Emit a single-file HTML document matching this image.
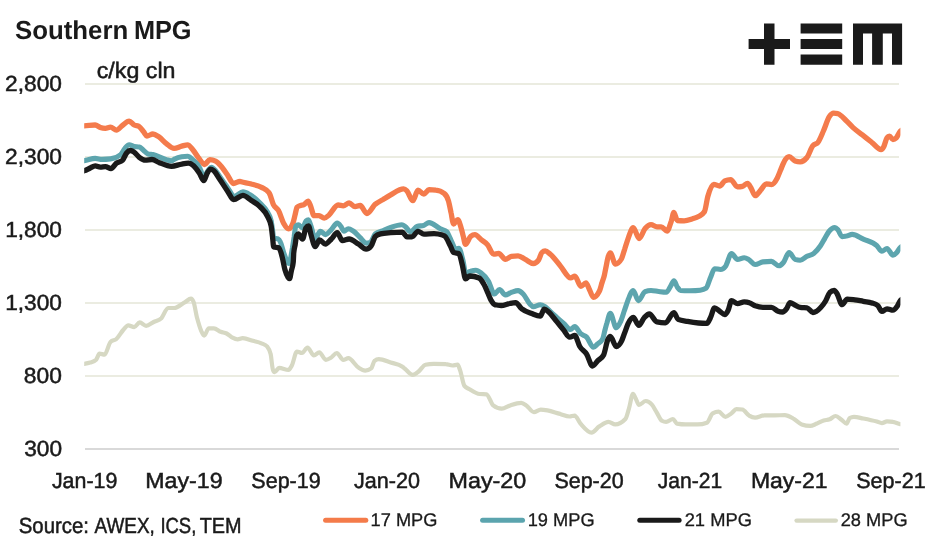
<!DOCTYPE html>
<html lang="en"><head><meta charset="utf-8"><title>Southern MPG</title>
<style>
html,body{margin:0;padding:0;background:#fff}
body{width:947px;height:543px;overflow:hidden}
svg{display:block}
text{font-family:"Liberation Sans",sans-serif;fill:#1a1a1a;text-rendering:geometricPrecision}
</style></head><body>
<svg width="947" height="543" viewBox="0 0 947 543">
<rect width="947" height="543" fill="#ffffff"/>
<g fill="#ebece1">
<rect x="85" y="83" width="814" height="2"/>
<rect x="85" y="156" width="814" height="2"/>
<rect x="85" y="229" width="814" height="2"/>
<rect x="85" y="302" width="814" height="2"/>
<rect x="85" y="375" width="814" height="2"/>
</g>
<rect x="85" y="448" width="814" height="2" fill="#d9d9d9"/>
<clipPath id="pc"><rect x="84.2" y="60" width="816.2" height="400"/></clipPath>
<g fill="none" stroke-linejoin="round" stroke-linecap="butt" clip-path="url(#pc)">
<path stroke="#f47b4c" stroke-width="5.3" d="M81.2,125.9C82.2,125.9 83.2,125.9 84.2,125.8C87.9,125.7 91.6,125.0 95.2,125.0C96.9,125.0 98.6,127.0 100.3,127.5C102.0,128.1 103.7,128.4 105.4,128.4C107.1,128.4 108.8,127.2 110.5,127.2C112.5,127.2 114.5,130.1 116.4,130.1C118.4,130.1 120.4,126.9 122.4,125.5C124.6,123.9 126.9,121.2 129.2,121.2C130.8,121.2 132.5,124.1 134.2,125.0C135.9,125.9 137.6,125.5 139.3,126.7C140.7,127.6 142.1,130.0 143.6,131.8C144.7,133.1 145.8,136.0 146.9,136.0C148.9,136.0 150.9,134.0 152.9,134.0C154.9,134.0 156.8,135.5 158.8,136.8C161.4,138.5 163.9,141.7 166.4,143.6C169.0,145.5 171.5,148.4 174.1,148.4C176.6,148.4 179.2,146.8 181.7,146.2C183.7,145.7 185.7,144.8 187.6,144.8C189.3,144.8 191.0,147.6 192.7,149.6C194.7,151.8 196.7,155.5 198.6,158.0C200.6,160.5 202.6,164.5 204.6,164.5C206.3,164.5 208.0,159.7 209.7,159.7C211.6,159.7 213.6,160.2 215.6,161.1C217.3,161.9 219.0,163.8 220.7,165.7C222.9,168.1 225.2,171.8 227.5,175.0C229.4,177.8 231.4,183.5 233.4,183.5C235.6,183.5 237.8,181.4 240.0,181.4C240.4,181.4 240.8,181.6 241.2,181.8C244.6,182.7 248.0,183.0 251.4,184.0C254.8,184.9 258.1,185.5 261.5,187.3C264.1,188.7 266.6,189.2 269.1,192.8C270.6,194.8 272.0,201.7 273.4,204.6C275.1,208.1 276.8,207.5 278.5,210.6C280.2,213.7 281.9,220.2 283.6,223.3C285.3,226.3 286.9,228.9 288.6,228.9C290.1,228.9 291.5,227.0 292.9,223.3C293.6,221.4 294.3,217.9 295.0,215.2C295.7,212.5 296.4,207.9 297.1,207.2C298.2,206.0 299.4,205.9 300.5,205.5C301.6,205.1 302.8,205.2 303.9,204.6C305.3,203.9 306.7,201.2 308.1,201.2C309.0,201.2 309.8,204.4 310.7,206.3C311.8,209.0 312.9,215.7 314.1,215.7C315.8,215.7 317.5,215.7 319.1,215.7C320.8,215.7 322.5,218.2 324.2,218.2C325.8,218.2 327.3,216.4 328.8,215.2C331.9,212.6 335.0,205.0 338.1,205.0C339.8,205.0 341.5,205.8 343.2,205.8C345.2,205.8 347.2,202.9 349.1,202.9C351.1,202.9 353.1,206.7 355.1,206.7C356.8,206.7 358.5,205.5 360.2,205.5C362.4,205.5 364.7,213.5 366.9,213.5C369.8,213.5 372.6,206.5 375.4,204.1C378.0,202.0 380.5,201.0 383.1,199.5C385.6,197.9 388.1,196.2 390.7,194.8C395.0,192.4 399.3,188.9 403.6,188.9C404.7,188.9 405.8,189.8 406.9,190.9C408.9,192.9 410.9,200.7 412.9,200.7C414.6,200.7 416.3,190.1 418.0,190.1C419.9,190.1 421.9,194.0 423.9,194.0C425.6,194.0 427.3,189.7 429.0,189.7C431.2,189.7 433.5,189.8 435.8,190.1C438.6,190.3 441.4,191.2 444.2,193.5C445.7,194.6 447.1,196.2 448.5,201.1C449.3,204.0 450.2,208.7 451.0,212.5C451.9,216.3 452.7,224.0 453.6,224.0C455.0,224.0 456.4,219.7 457.8,219.7C458.9,219.7 460.1,224.5 461.2,228.2C461.9,230.5 462.6,233.6 463.3,236.3C464.0,238.9 464.7,244.3 465.4,244.3C467.2,244.3 468.9,237.8 470.7,236.4C472.1,235.3 473.5,234.7 474.9,234.7C477.0,234.7 479.2,238.1 481.3,239.8C483.4,241.5 485.5,242.3 487.6,244.9C489.6,247.3 491.6,254.2 493.6,254.2C495.3,254.2 496.9,253.4 498.6,253.4C500.9,253.4 503.2,259.3 505.4,259.3C507.4,259.3 509.4,256.7 511.4,256.4C513.6,256.1 515.9,255.9 518.1,255.9C520.7,255.9 523.2,258.5 525.8,259.7C528.3,261.0 530.8,263.5 533.4,263.5C535.1,263.5 536.8,262.4 538.5,260.1C539.6,258.6 540.7,253.7 541.9,252.5C543.0,251.4 544.1,250.8 545.2,250.8C546.9,250.8 548.6,252.8 550.3,254.2C553.7,257.0 557.1,262.1 560.5,266.1C563.9,270.0 567.3,277.9 570.7,277.9C572.1,277.9 573.5,276.2 574.9,276.2C576.9,276.2 578.9,286.4 580.9,286.4C582.5,286.4 584.2,283.0 585.9,283.0C587.2,283.0 588.4,287.8 589.7,290.1C590.9,292.5 592.1,297.3 593.4,297.3C595.4,297.3 597.3,295.3 599.3,291.3C600.2,289.6 601.0,285.9 601.9,283.2C602.7,280.5 603.6,278.7 604.4,275.1C605.0,272.6 605.5,269.4 606.1,266.6C606.7,263.8 607.2,260.3 607.8,258.1C608.6,254.9 609.5,253.0 610.3,253.0C612.0,253.0 613.7,264.0 615.4,264.0C617.4,264.0 619.4,262.3 621.4,259.0C622.5,257.0 623.6,252.2 624.8,248.8C625.9,245.4 627.0,241.6 628.1,238.6C629.8,234.1 631.5,227.6 633.2,227.6C635.2,227.6 637.2,238.6 639.1,238.6C641.1,238.6 643.1,230.8 645.1,228.5C647.1,226.1 649.0,224.6 651.0,224.6C653.0,224.6 655.0,226.8 657.0,226.8C658.4,226.8 659.8,226.8 661.2,226.8C663.2,226.8 665.1,231.0 667.1,231.0C668.5,231.0 669.9,225.0 671.4,220.8C672.2,218.3 673.1,212.3 673.9,212.3C675.0,212.3 676.2,220.4 677.3,220.5C679.5,220.7 681.8,220.8 684.1,220.8C686.9,220.8 689.7,219.7 692.5,218.8C694.5,218.1 696.5,217.7 698.5,216.5C700.5,215.3 702.4,214.9 704.4,211.8C705.5,210.0 706.7,200.6 707.8,196.5C709.8,189.4 711.8,184.3 713.7,184.3C715.7,184.3 717.7,186.0 719.7,186.0C721.4,186.0 723.1,181.7 724.8,180.9C726.7,180.0 728.7,179.6 730.7,179.6C732.9,179.6 735.2,186.8 737.5,186.8C739.2,186.8 740.8,186.7 742.5,186.3C744.2,186.0 745.9,183.3 747.6,183.3C748.8,183.3 749.9,186.2 751.0,188.0C752.4,190.3 753.8,195.7 755.2,195.7C756.9,195.7 758.6,192.4 760.3,190.6C762.3,188.5 764.3,183.8 766.3,183.8C768.0,183.8 769.7,184.6 771.4,184.6C773.3,184.6 775.3,181.7 777.3,177.9C778.4,175.7 779.6,172.5 780.7,169.8C781.8,167.1 782.9,163.8 784.1,161.8C785.8,158.7 787.5,156.7 789.1,156.7C791.1,156.7 793.1,160.2 795.1,160.9C796.8,161.5 798.5,161.8 800.2,161.8C802.4,161.8 804.7,160.3 807.0,157.5C808.9,155.0 810.9,148.2 812.9,145.7C814.6,143.5 816.3,144.5 818.0,142.3C819.8,139.8 821.6,135.1 823.4,131.0C825.4,126.6 827.4,119.5 829.4,116.6C830.8,114.5 832.2,113.2 833.6,113.2C835.0,113.2 836.4,113.4 837.9,113.7C840.7,114.4 843.5,118.2 846.3,120.8C848.6,122.9 850.8,125.5 853.1,127.6C856.2,130.4 859.3,132.5 862.4,134.9C865.5,137.4 868.6,139.8 871.7,142.3C874.9,144.7 878.0,149.6 881.1,149.6C881.9,149.6 882.8,148.6 883.6,147.1C884.7,145.1 885.9,139.3 887.0,137.8C887.8,136.6 888.7,136.1 889.5,136.1C890.7,136.1 891.8,139.5 892.9,139.5C894.1,139.5 895.2,138.9 896.3,137.8C897.6,136.5 898.9,132.7 900.2,131.3C901.2,130.2 902.2,129.8 903.2,129.3"/>
<path stroke="#5da5ae" stroke-width="5.1" d="M81.2,160.8C82.2,160.7 83.2,160.7 84.2,160.6C87.9,160.2 91.6,158.4 95.2,158.4C97.5,158.4 99.8,159.4 102.0,159.4C104.9,159.4 107.7,159.2 110.5,158.9C113.9,158.5 117.3,157.5 120.7,154.6C122.1,153.5 123.5,150.0 124.9,148.4C126.3,146.7 127.7,144.8 129.2,144.8C130.8,144.8 132.5,146.2 134.2,146.5C135.9,146.8 137.6,146.7 139.3,147.0C140.7,147.3 142.1,149.3 143.6,150.4C145.0,151.5 146.4,153.3 147.8,153.8C149.5,154.4 151.2,154.3 152.9,154.6C157.4,155.7 161.9,158.5 166.4,159.7C168.1,160.2 169.8,160.9 171.5,160.9C172.7,160.9 173.8,159.4 174.9,158.9C177.2,157.7 179.4,157.2 181.7,156.8C183.7,156.5 185.7,156.3 187.6,156.3C189.3,156.3 191.0,158.2 192.7,159.7C195.3,162.0 197.8,163.4 200.3,169.0C201.4,171.3 202.4,177.0 203.4,177.0C204.9,177.0 206.4,172.5 208.0,170.7C209.1,169.4 210.2,167.3 211.4,167.3C212.8,167.3 214.2,169.1 215.6,170.7C216.8,172.1 218.0,174.1 219.2,175.8C222.0,179.8 224.8,184.0 227.6,187.7C229.9,190.7 232.2,196.2 234.4,196.2C237.2,196.2 240.1,191.9 242.9,191.9C245.3,191.9 247.6,193.4 250.0,194.8C253.4,196.8 256.8,199.7 260.2,203.3C262.7,206.0 265.3,207.2 267.8,212.6C268.9,215.0 270.1,215.4 271.2,221.1C271.6,223.2 272.0,226.7 272.5,229.6C272.9,232.4 273.3,237.9 273.7,238.0C275.1,238.6 276.6,238.3 278.0,238.9C278.8,239.2 279.7,240.4 280.5,242.3C281.6,244.7 282.8,250.2 283.9,253.3C285.6,257.9 287.3,263.4 289.0,263.4C290.1,263.4 291.2,254.8 292.4,248.2C292.9,244.9 293.5,240.9 294.1,237.2C294.6,233.5 295.2,226.8 295.8,226.2C296.6,225.3 297.5,224.8 298.3,224.8C299.7,224.8 301.1,227.9 302.5,227.9C303.7,227.9 304.8,222.3 305.9,221.1C306.8,220.2 307.6,219.7 308.5,219.7C309.3,219.7 310.2,223.9 311.0,226.2C312.4,230.0 313.8,238.9 315.2,238.9C316.9,238.9 318.6,231.2 320.3,231.2C322.0,231.2 323.7,234.6 325.4,234.6C327.4,234.6 329.4,231.5 331.4,229.6C333.3,227.6 335.3,223.1 337.3,223.1C338.4,223.1 339.6,224.8 340.7,226.2C341.8,227.5 342.9,231.2 344.1,231.2C345.5,231.2 346.9,228.7 348.3,228.7C350.0,228.7 351.7,230.1 353.4,231.2C355.5,232.7 357.6,235.2 359.7,237.2C361.9,239.2 364.0,243.1 366.1,243.1C367.5,243.1 368.9,242.8 370.3,242.3C372.0,241.6 373.7,235.2 375.4,233.8C378.0,231.7 380.5,231.7 383.1,230.7C385.6,229.6 388.1,228.4 390.7,227.5C394.4,226.2 398.1,224.8 401.9,224.8C403.0,224.8 404.1,225.7 405.2,226.5C406.9,227.7 408.6,231.6 410.3,231.6C412.6,231.6 414.9,227.3 417.1,226.5C419.4,225.7 421.6,226.1 423.9,225.3C425.6,224.7 427.3,222.6 429.0,222.6C432.9,222.6 436.9,227.2 440.9,229.0C442.8,230.0 444.8,229.9 446.8,231.6C447.9,232.6 449.0,236.0 450.2,238.4C450.8,239.7 451.4,241.1 452.0,242.3C453.2,244.7 454.3,249.1 455.4,249.1C456.6,249.1 457.7,248.3 458.8,248.3C460.2,248.3 461.6,255.3 463.1,261.0C463.9,264.4 464.7,272.9 465.6,272.9C467.3,272.9 469.0,271.6 470.7,271.2C472.4,270.7 474.1,270.3 475.8,270.3C477.5,270.3 479.2,271.6 480.9,272.9C483.4,274.8 485.9,277.0 488.5,281.3C490.5,284.7 492.4,294.0 494.4,294.0C496.1,294.0 497.8,289.5 499.5,289.5C501.5,289.5 503.4,294.9 505.4,294.9C507.4,294.9 509.4,293.0 511.4,292.3C513.6,291.6 515.9,290.6 518.1,290.6C519.8,290.6 521.5,292.3 523.2,294.0C525.5,296.4 527.7,301.9 530.0,304.2C531.1,305.3 532.3,306.8 533.4,306.8C535.6,306.8 537.9,304.7 540.2,304.7C541.8,304.7 543.4,305.6 545.1,306.6C547.1,307.8 549.0,310.3 551.0,312.1C553.0,313.9 555.0,315.8 557.0,317.6C559.2,319.6 561.5,321.6 563.7,323.5C566.0,325.5 568.2,329.5 570.5,329.5C571.9,329.5 573.3,326.6 574.8,326.6C576.7,326.6 578.7,332.0 580.7,333.7C582.7,335.5 584.6,335.1 586.6,337.1C588.9,339.4 591.1,347.3 593.4,347.3C594.8,347.3 596.2,345.1 597.6,343.9C599.3,342.4 601.0,342.2 602.7,338.8C603.4,337.4 604.1,333.4 604.8,330.7C605.5,328.1 606.2,325.1 607.0,322.7C608.1,318.9 609.2,313.4 610.3,313.4C612.3,313.4 614.3,327.8 616.3,327.8C617.7,327.8 619.1,324.9 620.5,321.8C621.8,319.1 623.1,314.5 624.3,310.8C625.6,307.2 626.9,302.9 628.1,299.8C629.8,295.7 631.5,290.5 633.2,290.5C634.9,290.5 636.6,300.6 638.3,300.6C640.6,300.6 642.8,292.6 645.1,291.7C647.1,290.9 649.0,290.5 651.0,290.5C653.6,290.5 656.1,291.2 658.6,291.5C661.2,291.8 663.7,292.2 666.3,292.2C667.7,292.2 669.1,288.5 670.5,286.4C671.6,284.7 672.8,280.9 673.9,280.9C675.1,280.9 676.3,285.8 677.5,287.4C678.6,288.8 679.6,290.4 680.7,290.5C683.8,290.7 686.9,290.7 690.0,290.7C693.4,290.7 696.8,290.6 700.2,290.2C702.1,290.0 704.1,289.6 706.1,288.2C707.5,287.2 708.9,281.3 710.3,278.0C711.8,274.8 713.2,268.7 714.6,268.7C716.6,268.7 718.5,269.5 720.5,269.5C722.2,269.5 723.9,268.4 725.6,266.2C727.6,263.5 729.5,253.5 731.5,253.5C733.5,253.5 735.5,259.4 737.5,259.4C739.7,259.4 742.0,257.7 744.2,257.7C745.6,257.7 747.1,258.6 748.5,259.4C750.7,260.6 753.0,264.5 755.2,264.5C757.8,264.5 760.3,262.2 762.9,261.9C765.7,261.6 768.5,261.4 771.4,261.4C773.9,261.4 776.4,265.8 779.0,265.8C780.4,265.8 781.8,264.4 783.2,262.8C785.2,260.5 787.2,252.6 789.1,252.6C791.1,252.6 793.1,258.7 795.1,259.4C796.8,259.9 798.5,260.2 800.2,260.2C802.4,260.2 804.7,257.5 807.0,256.3C809.2,255.2 811.5,255.2 813.7,253.5C816.0,251.7 818.2,249.2 820.5,245.8C821.9,243.7 823.3,241.0 824.7,238.6C826.2,236.2 827.6,233.2 829.0,231.4C831.0,228.9 832.9,227.5 834.9,227.5C835.9,227.5 836.9,228.7 837.9,229.8C839.3,231.4 840.7,236.6 842.1,236.6C843.5,236.6 844.9,236.3 846.3,236.1C848.3,235.7 850.3,234.4 852.2,234.4C855.9,234.4 859.6,237.5 863.3,239.1C867.8,241.2 872.3,241.3 876.8,245.6C878.5,247.2 880.2,251.3 881.9,251.3C883.6,251.3 885.3,248.5 887.0,248.5C889.0,248.5 891.0,255.2 892.9,255.2C894.1,255.2 895.2,254.2 896.3,253.0C897.6,251.7 898.9,248.8 900.2,247.6C901.2,246.7 902.2,246.3 903.2,245.9"/>
<path stroke="#1a1a1a" stroke-width="5.3" d="M81.2,171.4C82.2,171.3 83.2,171.1 84.2,170.8C86.2,170.3 88.2,168.9 90.2,168.0C91.9,167.2 93.6,165.8 95.2,165.8C96.9,165.8 98.6,167.1 100.3,167.1C102.0,167.1 103.7,166.6 105.4,166.6C107.3,166.6 109.2,168.6 111.0,168.6C112.8,168.6 114.6,164.6 116.4,163.2C118.4,161.7 120.4,162.2 122.4,160.3C123.8,159.0 125.2,154.7 126.6,153.0C127.7,151.7 128.9,150.5 130.0,150.5C131.4,150.5 132.8,151.2 134.2,152.2C135.9,153.3 137.6,156.0 139.3,157.3C141.3,158.8 143.3,160.2 145.2,160.2C147.5,160.2 149.8,159.5 152.0,159.5C154.3,159.5 156.6,161.5 158.8,162.4C163.1,164.0 167.3,166.3 171.5,166.3C174.9,166.3 178.3,164.6 181.7,164.1C183.9,163.7 186.2,163.2 188.5,163.2C190.2,163.2 191.9,164.3 193.6,165.8C195.5,167.5 197.5,170.3 199.5,173.4C200.9,175.6 202.3,180.7 203.7,180.7C204.9,180.7 206.0,175.3 207.1,173.4C208.2,171.5 209.4,169.1 210.5,169.1C211.6,169.1 212.8,169.9 213.9,170.8C215.7,172.4 217.4,175.9 219.2,178.5C222.0,182.6 224.8,187.1 227.6,191.2C229.6,194.1 231.6,199.7 233.6,199.7C236.7,199.7 239.8,195.4 242.9,195.4C245.7,195.4 248.5,198.7 251.4,200.5C254.3,202.4 257.2,203.7 260.2,206.8C262.7,209.4 265.3,211.1 267.8,216.9C268.9,219.6 270.1,220.0 271.2,226.3C271.6,228.6 272.0,233.2 272.5,236.6C272.9,240.0 273.3,246.8 273.7,246.9C275.4,247.5 277.1,247.2 278.8,247.8C279.9,248.2 281.1,252.8 282.2,257.1C283.1,260.5 284.0,266.2 284.9,269.5C286.5,275.2 288.0,278.7 289.6,278.7C290.2,278.7 290.8,273.3 291.4,270.6C292.0,267.9 292.6,267.9 293.2,262.5C293.4,260.9 293.6,255.6 293.7,253.4C294.2,247.4 294.7,247.4 295.2,244.5C295.7,241.5 296.1,236.5 296.6,235.6C297.2,234.5 297.7,233.9 298.3,233.9C299.7,233.9 301.1,239.0 302.5,239.0C303.7,239.0 304.8,229.8 305.9,228.0C306.8,226.6 307.6,225.9 308.5,225.9C309.3,225.9 310.2,232.0 311.0,234.7C312.4,239.3 313.8,246.6 315.2,246.6C316.7,246.6 318.1,239.8 319.5,239.8C321.5,239.8 323.4,244.1 325.4,244.1C327.4,244.1 329.4,240.9 331.4,239.0C333.3,237.1 335.3,232.7 337.3,232.7C339.0,232.7 340.7,240.7 342.4,240.7C344.6,240.7 346.9,239.0 349.1,239.0C352.3,239.0 355.4,242.2 358.5,244.1C361.0,245.6 363.6,249.1 366.1,249.1C367.8,249.1 369.5,248.0 371.2,245.8C372.6,243.9 374.0,237.8 375.4,236.4C377.1,234.7 378.8,234.3 380.5,233.9C383.9,233.1 387.3,233.0 390.7,232.7C394.6,232.4 398.6,232.2 402.5,232.2C404.0,232.2 405.5,236.8 406.9,236.8C408.6,236.8 410.3,236.8 412.0,236.8C414.0,236.8 416.0,231.3 418.0,231.3C419.9,231.3 421.9,234.2 423.9,234.2C427.3,234.2 430.7,233.7 434.1,233.7C436.9,233.7 439.7,234.2 442.5,235.1C443.4,235.4 444.3,235.6 445.2,236.5C446.9,238.2 448.6,242.6 450.3,245.8C451.5,248.0 452.6,252.2 453.7,252.6C455.4,253.2 457.1,252.9 458.8,253.5C459.9,253.8 461.1,260.2 462.2,264.5C463.3,268.7 464.5,278.9 465.6,278.9C467.0,278.9 468.4,276.0 469.8,276.0C472.9,276.0 476.0,276.7 479.1,278.0C480.8,278.8 482.5,281.6 484.2,284.8C485.4,286.9 486.5,289.9 487.6,292.4C488.8,295.0 489.9,298.1 491.0,300.1C492.4,302.5 493.8,304.5 495.2,304.8C497.2,305.3 499.2,305.5 501.2,305.5C504.0,305.5 506.8,304.0 509.7,303.5C511.6,303.1 513.6,302.6 515.6,302.6C517.6,302.6 519.5,306.9 521.5,308.6C524.9,311.3 528.3,312.3 531.7,313.6C534.5,314.7 537.3,316.2 540.2,316.2C541.5,316.2 542.9,309.2 544.2,309.2C545.6,309.2 547.1,310.6 548.5,311.8C551.3,314.0 554.1,318.5 557.0,321.9C559.1,324.5 561.2,327.0 563.3,329.6C565.4,332.1 567.5,337.2 569.7,337.2C571.4,337.2 573.1,335.5 574.8,335.5C576.4,335.5 578.1,343.6 579.8,346.5C582.1,350.4 584.4,350.5 586.6,354.1C588.6,357.3 590.6,366.0 592.5,366.0C594.2,366.0 595.9,362.6 597.6,360.9C599.6,358.9 601.6,358.9 603.6,355.0C605.0,352.2 606.4,342.8 607.8,339.7C608.6,337.9 609.5,336.4 610.3,336.4C612.3,336.4 614.3,346.5 616.3,346.5C618.0,346.5 619.7,344.8 621.4,341.4C622.5,339.2 623.6,335.5 624.8,332.5C625.9,329.6 627.0,326.0 628.1,323.6C629.8,320.1 631.5,317.4 633.2,317.4C635.1,317.4 636.9,325.3 638.8,325.3C640.6,325.3 642.4,319.6 644.2,317.7C645.9,315.9 647.6,314.0 649.3,314.0C651.9,314.0 654.4,321.4 657.0,321.9C659.8,322.5 662.6,322.8 665.4,322.8C668.2,322.8 671.1,312.6 673.9,312.6C675.3,312.6 676.7,318.8 678.1,319.4C681.2,320.8 684.4,320.9 687.5,321.4C691.1,322.1 694.8,322.7 698.5,323.0C701.3,323.3 704.1,323.4 707.0,323.4C708.1,323.4 709.2,320.2 710.3,318.0C711.8,315.2 713.2,307.8 714.6,307.8C716.3,307.8 718.0,310.1 719.7,311.2C721.4,312.3 723.1,314.6 724.8,314.6C725.9,314.6 727.0,312.6 728.1,310.3C729.3,308.0 730.4,300.7 731.5,300.7C733.5,300.7 735.5,303.6 737.5,303.6C739.7,303.6 742.0,301.9 744.2,301.9C745.9,301.9 747.6,302.1 749.3,302.7C751.3,303.3 753.3,305.0 755.2,305.8C757.8,306.7 760.3,307.3 762.9,307.3C765.7,307.3 768.5,307.3 771.4,307.3C773.6,307.3 775.9,310.4 778.1,311.2C779.5,311.7 781.0,312.0 782.4,312.0C783.8,312.0 785.2,310.5 786.6,308.6C787.7,307.1 788.9,302.7 790.0,302.7C791.7,302.7 793.4,304.5 795.1,305.2C796.8,306.0 798.5,307.3 800.2,307.4C802.4,307.7 804.7,307.6 807.0,307.8C808.9,308.0 810.9,312.5 812.9,312.5C815.4,312.5 818.0,310.5 820.5,307.8C822.2,306.0 823.9,303.9 825.6,301.0C827.0,298.6 828.4,293.9 829.8,292.5C831.2,291.2 832.7,290.5 834.1,290.5C835.0,290.5 836.0,292.1 837.0,293.6C838.7,296.0 840.4,304.6 842.1,304.6C843.8,304.6 845.5,299.1 847.2,299.1C849.7,299.1 852.3,299.5 854.8,299.8C857.6,300.2 860.4,300.8 863.3,301.3C866.1,301.9 868.9,301.9 871.8,302.9C873.7,303.5 875.7,303.7 877.7,305.4C879.1,306.6 880.5,311.4 881.9,311.4C883.6,311.4 885.3,308.8 887.0,308.8C889.0,308.8 891.0,310.2 892.9,310.2C894.3,310.2 895.8,308.3 897.2,306.3C898.2,304.8 899.2,302.1 900.2,300.8C901.2,299.6 902.2,299.2 903.2,298.7"/>
<path stroke="#d6d8c3" stroke-width="4.2" d="M81.2,364.2C82.2,364.1 83.2,364.0 84.2,363.9C86.2,363.6 88.2,363.3 90.2,362.6C92.1,361.9 94.1,361.6 96.1,359.7C97.2,358.6 98.4,353.7 99.5,353.7C101.2,353.7 102.9,354.6 104.6,354.6C106.6,354.6 108.5,343.8 110.5,341.9C112.5,340.0 114.5,340.7 116.4,339.0C118.7,337.0 121.0,332.5 123.2,330.0C124.9,328.2 126.6,325.4 128.3,325.4C130.3,325.4 132.3,327.1 134.2,327.1C136.0,327.1 137.9,322.4 139.7,322.4C141.8,322.4 144.0,325.8 146.1,325.8C148.6,325.8 151.2,323.2 153.7,322.0C156.3,320.7 158.8,320.7 161.4,318.2C163.6,315.9 165.9,308.0 168.1,308.0C170.1,308.0 172.1,308.0 174.1,308.0C177.7,308.0 181.4,304.1 185.1,302.1C187.1,300.9 189.0,298.7 191.0,298.7C191.9,298.7 192.7,299.8 193.6,302.1C194.7,305.1 195.8,312.9 196.9,317.3C198.4,322.8 199.8,327.6 201.2,330.9C202.2,333.0 203.1,335.6 204.1,335.6C205.7,335.6 207.2,328.3 208.8,328.3C210.5,328.3 212.2,328.3 213.9,328.3C216.2,328.3 218.4,330.9 220.7,331.8C222.7,332.6 224.6,332.5 226.6,333.5C228.6,334.5 230.6,336.7 232.5,337.7C234.2,338.6 235.9,339.4 237.6,339.4C239.3,339.4 241.0,338.2 242.7,338.2C246.1,338.2 249.5,339.8 252.9,340.8C255.7,341.6 258.5,342.0 261.4,343.3C263.3,344.2 265.3,344.5 267.3,346.7C268.4,348.0 269.6,349.3 270.7,354.3C271.4,357.6 272.1,367.4 272.9,369.6C273.4,371.3 274.0,372.1 274.6,372.1C276.1,372.1 277.6,367.9 279.1,367.9C282.3,367.9 285.4,369.9 288.5,369.9C289.6,369.9 290.7,367.5 291.9,365.4C293.6,362.1 295.3,351.5 296.9,351.5C298.6,351.5 300.3,353.0 302.0,353.0C303.8,353.0 305.6,347.6 307.5,347.6C309.6,347.6 311.8,355.5 313.9,355.5C315.7,355.5 317.5,352.3 319.3,352.3C321.5,352.3 323.6,359.8 325.8,359.8C327.5,359.8 329.2,358.7 330.9,357.7C332.8,356.6 334.8,353.0 336.8,353.0C338.9,353.0 341.1,359.9 343.2,359.9C344.9,359.9 346.6,358.2 348.3,358.2C351.7,358.2 355.1,365.4 358.5,367.6C360.7,369.0 363.0,370.6 365.2,370.6C367.2,370.6 369.2,369.9 371.2,368.4C372.3,367.6 373.4,361.7 374.6,360.8C376.0,359.6 377.4,359.1 378.8,359.1C382.8,359.1 386.7,361.2 390.7,362.5C394.6,363.7 398.6,363.9 402.5,366.7C403.4,367.3 404.2,368.2 405.1,368.9C407.6,371.1 410.2,374.9 412.7,374.9C414.7,374.9 416.7,373.0 418.6,371.5C420.9,369.7 423.2,365.1 425.4,364.7C428.2,364.1 431.1,363.8 433.9,363.8C437.9,363.8 441.8,363.9 445.8,364.2C448.0,364.3 450.3,365.5 452.5,365.5C454.2,365.5 455.9,364.7 457.6,364.7C458.5,364.7 459.3,368.2 460.2,370.6C461.6,374.6 463.0,384.0 464.4,385.9C466.1,388.1 467.8,388.2 469.5,389.2C472.9,391.3 476.3,393.7 479.7,394.0C481.9,394.2 484.2,394.1 486.4,394.3C488.7,394.6 491.0,403.5 493.2,405.4C496.0,407.6 498.9,408.7 501.7,408.7C504.5,408.7 507.3,406.3 510.2,405.4C513.8,404.2 517.5,402.8 521.2,402.8C522.9,402.8 524.6,404.2 526.3,405.4C528.8,407.0 531.4,412.1 533.9,412.1C536.2,412.1 538.4,409.6 540.7,409.6C542.9,409.6 545.2,410.0 547.5,410.4C551.7,411.2 555.9,412.8 560.2,413.9C563.3,414.8 566.4,416.5 569.5,416.5C571.2,416.5 572.9,415.6 574.6,415.6C576.6,415.6 578.5,421.3 580.5,423.6C584.2,427.8 587.9,432.6 591.5,432.6C594.1,432.6 596.6,428.3 599.1,426.6C602.3,424.6 605.4,421.9 608.5,421.9C610.7,421.9 613.0,424.4 615.2,424.4C618.6,424.4 622.0,422.6 625.4,419.0C626.5,417.8 627.7,412.8 628.8,409.2C630.2,404.6 631.6,393.9 633.0,393.9C633.9,393.9 634.7,396.6 635.6,398.2C636.7,400.2 637.9,404.9 639.0,404.9C641.2,404.9 643.5,401.0 645.8,401.0C647.7,401.0 649.7,402.2 651.7,404.4C653.4,406.3 655.1,409.8 656.8,412.6C658.5,415.3 660.2,419.7 661.9,420.7C663.3,421.5 664.7,421.9 666.1,421.9C668.4,421.9 670.6,419.0 672.9,419.0C674.3,419.0 675.7,423.3 677.1,423.6C679.9,424.1 682.8,424.4 685.6,424.4C689.5,424.4 693.5,424.4 697.5,424.4C700.6,424.4 703.7,423.9 706.8,422.7C708.8,422.0 710.7,414.5 712.7,413.4C714.7,412.3 716.7,411.7 718.6,411.7C720.9,411.7 723.2,416.8 725.4,416.8C727.4,416.8 729.4,414.8 731.4,413.4C733.1,412.2 734.7,409.2 736.4,409.2C738.4,409.2 740.4,409.3 742.4,409.5C744.6,409.8 746.9,414.2 749.1,415.6C751.1,416.8 753.1,417.6 755.1,417.6C758.2,417.6 761.3,415.4 764.4,415.4C767.8,415.4 771.2,415.4 774.6,415.4C778.0,415.4 781.4,415.1 784.8,415.1C787.6,415.1 790.4,416.9 793.2,418.5C796.0,420.0 798.9,423.5 801.7,424.4C804.5,425.3 807.3,425.8 810.2,425.8C812.4,425.8 814.7,424.4 817.0,423.6C819.2,422.7 821.5,421.2 823.7,420.5C825.7,419.9 827.7,420.1 829.7,419.3C831.6,418.6 833.6,416.0 835.6,416.0C837.6,416.0 839.5,418.3 841.5,419.7C843.2,420.9 844.9,423.6 846.6,423.6C847.6,423.6 848.7,418.6 849.7,418.0C851.1,417.2 852.5,416.8 854.0,416.8C857.1,416.8 860.2,417.9 863.3,418.5C867.8,419.4 872.3,420.3 876.8,421.5C878.5,422.0 880.2,423.1 881.9,423.1C883.6,423.1 885.3,421.4 887.0,421.4C889.0,421.4 891.0,421.5 892.9,421.9C895.4,422.3 897.8,423.7 900.2,424.1C901.2,424.3 902.2,424.3 903.2,424.4"/>
</g>
<g fill="#1a1a1a">
<path d="M764,23.4h10.5v15.6h15.5v10h-15.5v15.8h-10.5v-15.8h-15.4v-10h15.4z"/>
<path d="M800.6,23.4h41.6v10h-41.6zM800.6,39h41.6v10h-41.6zM800.6,54.6h41.6v10.2h-41.6z"/>
<path d="M853,23.4h49.1v41.4h-10.1v-31.4h-9.2v31.4h-10.7v-31.4h-9.1v31.4h-10z"/>
</g>
<g stroke-width="5" stroke-linecap="round" fill="none">
<line x1="325.6" y1="520.3" x2="365.8" y2="520.3" stroke="#f47b4a"/>
<line x1="482.6" y1="520.3" x2="522.5" y2="520.3" stroke="#5ba4ae"/>
<line x1="639.8" y1="520.3" x2="679.1" y2="520.3" stroke="#1a1a1a"/>
<line x1="796.6" y1="520.6" x2="835.8" y2="520.6" stroke="#d6d8c3" stroke-width="4.4"/>
</g>
<text y="38.7" font-size="26" font-weight="bold"><tspan x="14.95" textLength="113.35" lengthAdjust="spacingAndGlyphs">Southern</tspan> <tspan x="133.90" textLength="57.67" lengthAdjust="spacingAndGlyphs">MPG</tspan></text>
<text x="96.75" y="78.2" font-size="22.4" stroke="#1a1a1a" stroke-width="0.5" textLength="78.78" lengthAdjust="spacingAndGlyphs">c/kg cln</text>
<text x="5.04" y="90.7" font-size="21.8" stroke="#1a1a1a" stroke-width="0.5" textLength="56.90" lengthAdjust="spacingAndGlyphs">2,800</text>
<text x="5.04" y="163.7" font-size="21.8" stroke="#1a1a1a" stroke-width="0.5" textLength="56.90" lengthAdjust="spacingAndGlyphs">2,300</text>
<text x="5.18" y="236.7" font-size="21.8" stroke="#1a1a1a" stroke-width="0.5" textLength="56.81" lengthAdjust="spacingAndGlyphs">1,800</text>
<text x="5.18" y="309.7" font-size="21.8" stroke="#1a1a1a" stroke-width="0.5" textLength="56.81" lengthAdjust="spacingAndGlyphs">1,300</text>
<text x="23.89" y="382.7" font-size="21.8" stroke="#1a1a1a" stroke-width="0.5" textLength="38.04" lengthAdjust="spacingAndGlyphs">800</text>
<text x="24.24" y="455.7" font-size="21.8" stroke="#1a1a1a" stroke-width="0.5" textLength="37.83" lengthAdjust="spacingAndGlyphs">300</text>
<text x="51.90" y="488.4" font-size="21.8" stroke="#1a1a1a" stroke-width="0.5" textLength="65.48" lengthAdjust="spacingAndGlyphs">Jan-19</text>
<text x="145.30" y="488.4" font-size="21.8" stroke="#1a1a1a" stroke-width="0.5" textLength="77.31" lengthAdjust="spacingAndGlyphs">May-19</text>
<text x="251.30" y="488.4" font-size="21.8" stroke="#1a1a1a" stroke-width="0.5" textLength="69.43" lengthAdjust="spacingAndGlyphs">Sep-19</text>
<text x="353.90" y="488.4" font-size="21.8" stroke="#1a1a1a" stroke-width="0.5" textLength="66.01" lengthAdjust="spacingAndGlyphs">Jan-20</text>
<text x="448.50" y="488.4" font-size="21.8" stroke="#1a1a1a" stroke-width="0.5" textLength="77.83" lengthAdjust="spacingAndGlyphs">May-20</text>
<text x="554.42" y="488.4" font-size="21.8" stroke="#1a1a1a" stroke-width="0.5" textLength="69.24" lengthAdjust="spacingAndGlyphs">Sep-20</text>
<text x="657.77" y="488.4" font-size="21.8" stroke="#1a1a1a" stroke-width="0.5" textLength="64.34" lengthAdjust="spacingAndGlyphs">Jan-21</text>
<text x="750.92" y="488.4" font-size="21.8" stroke="#1a1a1a" stroke-width="0.5" textLength="76.60" lengthAdjust="spacingAndGlyphs">May-21</text>
<text x="856.16" y="488.4" font-size="21.8" stroke="#1a1a1a" stroke-width="0.5" textLength="69.48" lengthAdjust="spacingAndGlyphs">Sep-21</text>
<text y="532.6" font-size="21.8" stroke="#1a1a1a" stroke-width="0.5"><tspan x="18.73" textLength="70.26" lengthAdjust="spacingAndGlyphs">Source:</tspan> <tspan x="94.56" textLength="60.21" lengthAdjust="spacingAndGlyphs">AWEX,</tspan> <tspan x="160.38" textLength="35.97" lengthAdjust="spacingAndGlyphs">ICS,</tspan> <tspan x="199.72" textLength="41.86" lengthAdjust="spacingAndGlyphs">TEM</tspan></text>
<text x="370.62" y="525.7" font-size="18.2" stroke="#1a1a1a" stroke-width="0.3" textLength="66.84" lengthAdjust="spacingAndGlyphs">17 MPG</text>
<text x="527.73" y="525.7" font-size="18.2" stroke="#1a1a1a" stroke-width="0.3" textLength="66.91" lengthAdjust="spacingAndGlyphs">19 MPG</text>
<text x="684.68" y="525.7" font-size="18.2" stroke="#1a1a1a" stroke-width="0.3" textLength="67.26" lengthAdjust="spacingAndGlyphs">21 MPG</text>
<text x="840.70" y="525.7" font-size="18.2" stroke="#1a1a1a" stroke-width="0.3" textLength="66.92" lengthAdjust="spacingAndGlyphs">28 MPG</text>
</svg>
</body></html>
